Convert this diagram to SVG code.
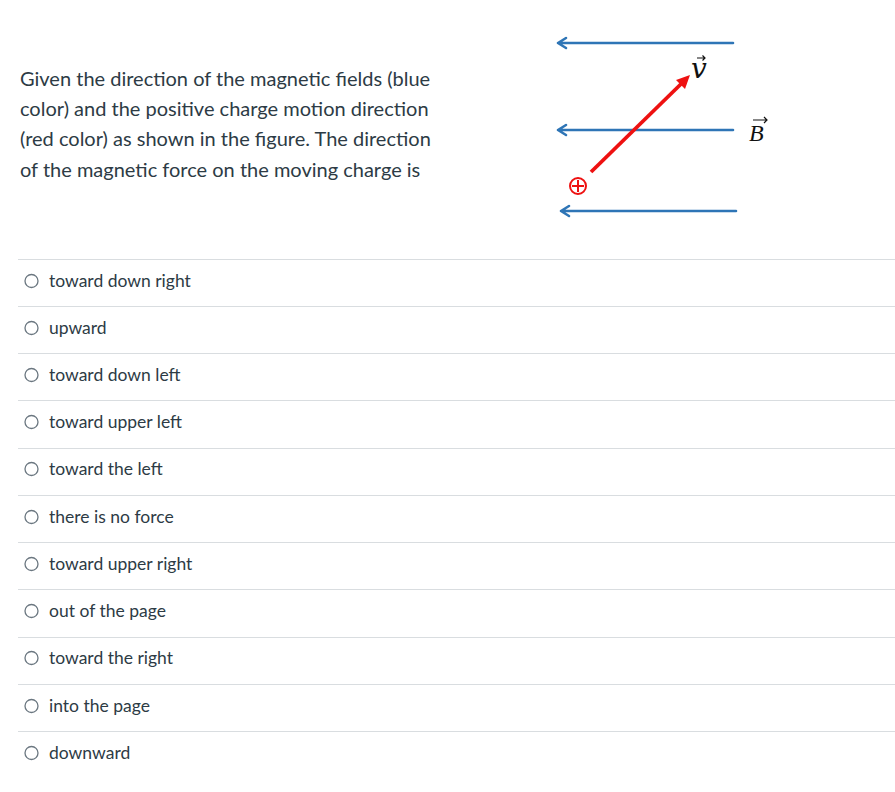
<svg xmlns="http://www.w3.org/2000/svg" width="895" height="792" viewBox="0 0 895 792">
<style>
.q{font-family:Lato,"Open Sans",sans-serif;font-size:20px;fill:#2d3b45}
.o{font-family:Lato,"Open Sans",sans-serif;font-size:17.5px;fill:#2d3b45}
.sep{stroke:#d9dde0;stroke-width:1}
.rad{fill:#fff;stroke:#6b7780;stroke-width:1.3}
.b{stroke:#2e75b6;stroke-width:2.6;fill:none;stroke-linecap:round;stroke-linejoin:round}
.vl{font-family:"DejaVu Serif",serif;font-style:italic;font-size:28px;fill:#111}
.bl{font-family:"Liberation Serif",serif;font-style:italic;font-size:24px;fill:#111}
.ar{stroke:#111;stroke-width:1.2;fill:none}
</style>
<rect width="895" height="792" fill="#fff"/>
<g id="question">
<text class="q" x="20" y="85.5">Given the direction of the magnetic fields (blue</text>
<text class="q" x="20" y="116">color) and the positive charge motion direction</text>
<text class="q" x="20" y="146">(red color) as shown in the figure. The direction</text>
<text class="q" x="20" y="176.5">of the magnetic force on the moving charge is</text>
</g>
<g id="figure">
<g id="connectors">
<path class="b" d="M733 43H558M566 38L558 43L566 48"/>
<path class="b" d="M733 130H558M566 125L558 130L566 135"/>
<path class="b" d="M736 211H561M569 206L561 211L569 216"/>
<path d="M591 172L681 84" stroke="#ee1111" stroke-width="3.8" stroke-linecap="butt"/>
<path d="M690 75L676 80L685 89Z" fill="#ee1111"/>
</g>
<g id="charge">
<circle cx="578" cy="186" r="8" fill="none" stroke="#ee1111" stroke-width="2"/>
<path d="M572 186H584M578 180V192" stroke="#ee1111" stroke-width="2"/>
</g>
<g id="v-label">
<text class="vl" x="691" y="77.5">v</text>
<path class="ar" d="M697 58H705M702.5 55.5L705 58L702.5 60.5"/>
</g>
<g id="B-label">
<text class="bl" x="749" y="141">B</text>
<path class="ar" d="M753 120H767M764 117L767 120L764 123"/>
</g>
</g>
<g id="options">
<line class="sep" x1="18" y1="259.5" x2="895" y2="259.5"/>
<line class="sep" x1="18" y1="306.5" x2="895" y2="306.5"/>
<line class="sep" x1="18" y1="353.5" x2="895" y2="353.5"/>
<line class="sep" x1="18" y1="400.5" x2="895" y2="400.5"/>
<line class="sep" x1="18" y1="448.5" x2="895" y2="448.5"/>
<line class="sep" x1="18" y1="495.5" x2="895" y2="495.5"/>
<line class="sep" x1="18" y1="542.5" x2="895" y2="542.5"/>
<line class="sep" x1="18" y1="589.5" x2="895" y2="589.5"/>
<line class="sep" x1="18" y1="637.5" x2="895" y2="637.5"/>
<line class="sep" x1="18" y1="684.5" x2="895" y2="684.5"/>
<line class="sep" x1="18" y1="731.5" x2="895" y2="731.5"/>
<g id="opt1"><circle class="rad" cx="31.5" cy="281" r="6.5"/><text class="o" x="49" y="286.5">toward down right</text></g>
<g id="opt2"><circle class="rad" cx="31.5" cy="328" r="6.5"/><text class="o" x="49" y="333.5">upward</text></g>
<g id="opt3"><circle class="rad" cx="31.5" cy="375" r="6.5"/><text class="o" x="49" y="380.5">toward down left</text></g>
<g id="opt4"><circle class="rad" cx="31.5" cy="422" r="6.5"/><text class="o" x="49" y="427.5">toward upper left</text></g>
<g id="opt5"><circle class="rad" cx="31.5" cy="469" r="6.5"/><text class="o" x="49" y="474.5">toward the left</text></g>
<g id="opt6"><circle class="rad" cx="31.5" cy="517" r="6.5"/><text class="o" x="49" y="522.5">there is no force</text></g>
<g id="opt7"><circle class="rad" cx="31.5" cy="564" r="6.5"/><text class="o" x="49" y="569.5">toward upper right</text></g>
<g id="opt8"><circle class="rad" cx="31.5" cy="611" r="6.5"/><text class="o" x="49" y="616.5">out of the page</text></g>
<g id="opt9"><circle class="rad" cx="31.5" cy="658" r="6.5"/><text class="o" x="49" y="663.5">toward the right</text></g>
<g id="opt10"><circle class="rad" cx="31.5" cy="706" r="6.5"/><text class="o" x="49" y="711.5">into the page</text></g>
<g id="opt11"><circle class="rad" cx="31.5" cy="753" r="6.5"/><text class="o" x="49" y="758.5">downward</text></g>
</g>
</svg>
